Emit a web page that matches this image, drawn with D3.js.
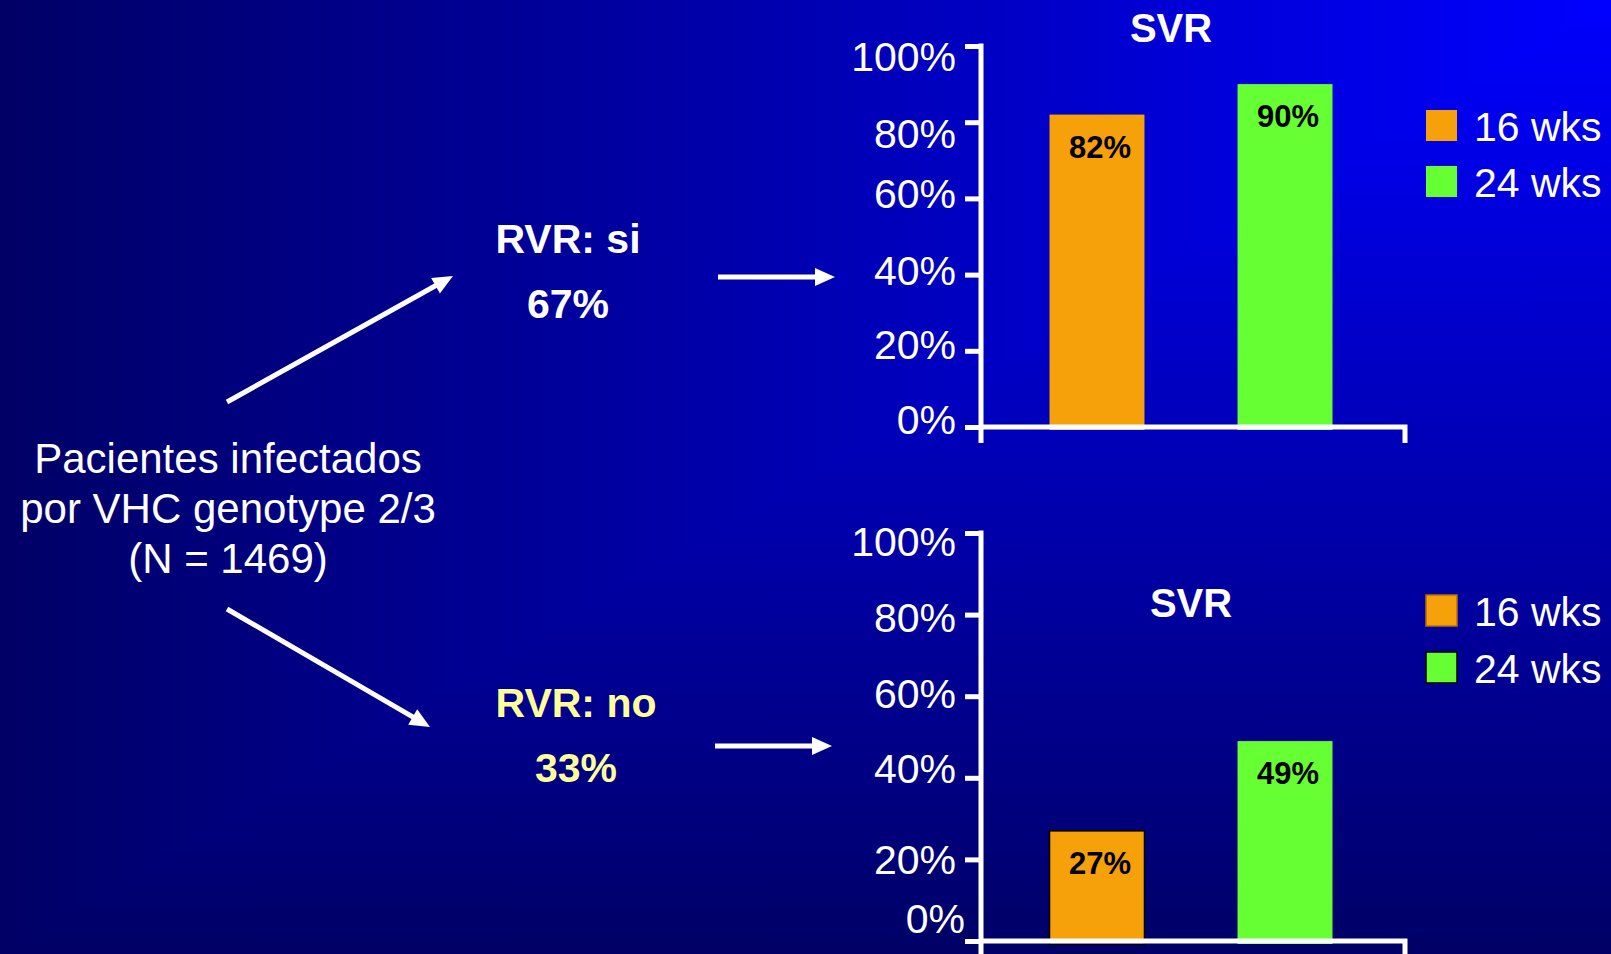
<!DOCTYPE html>
<html><head><meta charset="utf-8">
<script src="https://cdn.jsdelivr.net/npm/d3@7"></script>
<style>
html,body{margin:0;padding:0;overflow:hidden;background:#000066;}
svg{display:block;font-family:"Liberation Sans",Arial,sans-serif;}
</style></head><body>
<svg id="chart" width="1611" height="954"></svg>
<script>
// ---------------- data ----------------
const categories = ["16 wks", "24 wks"];
const svrRvrSi = [82, 90];
const svrRvrNo = [27, 49];
const yTicks = [0, 20, 40, 60, 80, 100];
const seriesColors = ["#F6A10A", "#66FF33"];
const chartTitle = "SVR";
const leftLines = ["Pacientes infectados", "por VHC genotype 2/3", "(N = 1469)"];
const rvrLabels = ["RVR: si", "RVR: no"];
const rvrShares = ["67%", "33%"];

// ---------------- layout ----------------
const W = 1611, H = 954;
const svg = d3.select("#chart");
const defs = svg.append("defs");

// rectangular "from corner" gradient: darker of horizontal & vertical ramps
const gh = defs.append("linearGradient").attr("id", "gh")
  .attr("x1", "1").attr("y1", "0").attr("x2", "0").attr("y2", "0");
gh.append("stop").attr("offset", 0).attr("stop-color", "#0000FF");
gh.append("stop").attr("offset", 1).attr("stop-color", "#000066");
const gv = defs.append("linearGradient").attr("id", "gv")
  .attr("x1", "0").attr("y1", "0").attr("x2", "0").attr("y2", "1");
gv.append("stop").attr("offset", 0).attr("stop-color", "#0000FF");
gv.append("stop").attr("offset", 1).attr("stop-color", "#000066");
const bg = svg.append("g").style("isolation", "isolate");
bg.append("rect").attr("width", W).attr("height", H).attr("fill", "url(#gh)");
bg.append("rect").attr("width", W).attr("height", H).attr("fill", "url(#gv)")
  .style("mix-blend-mode", "darken");

// per-tick label nudges (order follows yTicks: 0,20,40,60,80,100)
const panels = [
  { values: svrRvrSi, y0: 427, y1: 46, axisEnd: 443, titleX: 1171, titleY: 42,
    legendY: [110, 166], barStroke: ["none", "none"], legendStroke: ["none", "none"],
    labelDy: [-7, -5, -3, -4, 12, 11], labelDx: [0, 0, 0, 0, 0, 0] },
  { values: svrRvrNo, y0: 941, y1: 533, axisEnd: 956, titleX: 1191, titleY: 617,
    legendY: [595, 652], barStroke: ["#000", "none"], legendStroke: ["#B86E00", "#000"],
    labelDy: [-22, 1, -8, -2, 4, 9], labelDx: [9, 0, 0, 0, 0, 0] }
];

const axisX = 981, axisRight = 1405;
const x = d3.scaleBand().domain(categories).range([979, 1403])
  .paddingInner(0.495).paddingOuter(0.375);

panels.forEach(p => {
  const y = d3.scaleLinear().domain([0, 100]).range([p.y0, p.y1]);
  const g = svg.append("g");

  // bars
  g.selectAll("rect.bar").data(p.values).join("rect")
    .attr("class", "bar")
    .attr("x", (d, i) => x(categories[i]))
    .attr("width", x.bandwidth())
    .attr("y", d => y(d))
    .attr("height", d => y(0) - y(d) + 3)
    .attr("fill", (d, i) => seriesColors[i])
    .attr("stroke", (d, i) => p.barStroke[i])
    .attr("stroke-width", 1.5);

  // value labels
  g.selectAll("text.val").data(p.values).join("text")
    .attr("class", "val")
    .attr("x", (d, i) => x(categories[i]) + x.bandwidth() / 2 + 3)
    .attr("y", d => y(d) + 43)
    .attr("text-anchor", "middle")
    .attr("font-size", 31).attr("font-weight", "bold").attr("fill", "#000")
    .text(d => d + "%");

  // y axis
  const ax = g.append("g").attr("transform", `translate(${axisX},0)`)
    .call(d3.axisLeft(y).tickValues(yTicks).tickSize(16).tickSizeOuter(0)
      .tickPadding(9).tickFormat(d => d + "%"));
  ax.select(".domain").remove();
  ax.attr("font-family", null).attr("font-size", null);
  ax.selectAll(".tick line").attr("stroke", "#fff").attr("stroke-width", 5);
  ax.selectAll(".tick text").attr("fill", "#fff").attr("font-size", 41)
    .attr("transform", (d, i) => `translate(${p.labelDx[i]},${p.labelDy[i]})`);
  ax.append("line").attr("x1", 0).attr("x2", 0)
    .attr("y1", y(100) - 2.5).attr("y2", p.axisEnd)
    .attr("stroke", "#fff").attr("stroke-width", 5);

  // x axis
  g.append("path")
    .attr("d", `M${axisX},${y(0)}H${axisRight}V${p.axisEnd}`)
    .attr("fill", "none").attr("stroke", "#fff").attr("stroke-width", 5);

  // title
  g.append("text").attr("x", p.titleX).attr("y", p.titleY)
    .attr("text-anchor", "middle").attr("font-size", 40).attr("font-weight", "bold")
    .attr("fill", "#fff").text(chartTitle);

  // legend
  const lg = g.selectAll("g.leg").data(categories).join("g").attr("class", "leg")
    .attr("transform", (d, i) => `translate(1426,${p.legendY[i]})`);
  lg.append("rect").attr("width", 31).attr("height", 31)
    .attr("fill", (d, i) => seriesColors[i])
    .attr("stroke", (d, i) => p.legendStroke[i]).attr("stroke-width", 1.5);
  lg.append("text").attr("x", 48).attr("y", 31)
    .attr("font-size", 41).attr("fill", "#fff").text(d => d);
});

// ---------------- left flow diagram ----------------
svg.append("g").selectAll("text").data(leftLines).join("text")
  .attr("x", 228).attr("y", (d, i) => 473 + i * 50)
  .attr("text-anchor", "middle").attr("font-size", 42).attr("fill", "#fff")
  .text(d => d);

const rvrPos = [{x: 568, y: 253, color: "#fff"}, {x: 576, y: 717, color: "#FFFF99"}];
rvrPos.forEach((p, i) => {
  svg.append("text").attr("x", p.x).attr("y", p.y).attr("text-anchor", "middle")
    .attr("font-size", 41).attr("font-weight", "bold").attr("fill", p.color)
    .text(rvrLabels[i]);
  svg.append("text").attr("x", p.x).attr("y", p.y + 65).attr("text-anchor", "middle")
    .attr("font-size", 41).attr("font-weight", "bold").attr("fill", p.color)
    .text(rvrShares[i]);
});

function arrow(x1, y1, x2, y2) {
  const dx = x2 - x1, dy = y2 - y1, L = Math.hypot(dx, dy);
  const ux = dx / L, uy = dy / L, px = -uy, py = ux;
  const hl = 20, hw = 9;
  const bx = x2 - ux * hl, by = y2 - uy * hl;
  svg.append("line").attr("x1", x1).attr("y1", y1).attr("x2", bx + ux * 2).attr("y2", by + uy * 2)
    .attr("stroke", "#fff").attr("stroke-width", 5);
  svg.append("path")
    .attr("d", `M${x2},${y2}L${bx + px * hw},${by + py * hw}L${bx - px * hw},${by - py * hw}Z`)
    .attr("fill", "#fff");
}
arrow(227, 402, 453, 276);
arrow(718, 277, 835, 277);
arrow(227, 609, 430, 727);
arrow(715, 746, 832, 746);
</script>
</body></html>
